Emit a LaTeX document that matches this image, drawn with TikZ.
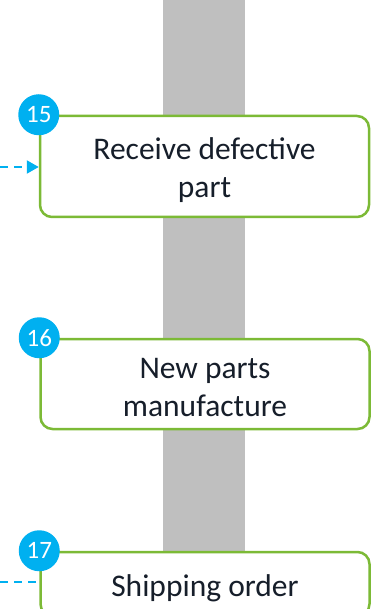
\documentclass[tikz,border=0pt]{standalone}
\usepackage{fontspec}
\setmainfont{Carlito}
\usetikzlibrary{arrows.meta}
\definecolor{boxgreen}{RGB}{124,186,54}
\definecolor{badgecyan}{RGB}{0,176,240}
\definecolor{barfill}{RGB}{191,191,191}
\definecolor{txtdark}{RGB}{22,30,42}
\tikzset{
  stepbox/.style={draw=boxgreen, line width=2.5pt, rounded corners=12pt, fill=white,
    inner sep=0pt, minimum width=329pt},
  steptext/.style={text=txtdark, align=center, inner sep=0pt,
    font=\fontsize{31.5}{38}\selectfont, yshift=-4pt},
  badge/.style={circle, fill=badgecyan, minimum size=41pt, inner sep=0pt,
    text=white, font=\fontsize{25}{26}\selectfont},
  link/.style={draw=badgecyan, line width=2.2pt, dash pattern=on 8pt off 6pt},
}
\begin{document}
\begin{tikzpicture}[x=1pt,y=-1pt]
\useasboundingbox (0,0) rectangle (378,609);
\clip (0,0) rectangle (378,609);
\fill[barfill] (163,0) rectangle (245,609);
\node[stepbox, minimum height=101pt] (b15) at (204.5,166.5) {};
\node[stepbox, minimum height=90pt] (b16) at (205,384) {};
\node[stepbox, minimum height=64pt] (b17) at (205,584) {};
\node[steptext] (t15) at (b15.center) {Receive defective\\part};
\node[steptext] (t16) at (b16.center) {New parts\\manufacture};
\node[steptext] (t17) at (b17.center) {Shipping order};
\node[badge] (n15) at (b15.north west) {15};
\node[badge] (n16) at (b16.north west) {16};
\node[badge] (n17) at (b17.north west) {17};
\coordinate (s15) at (0,167);
\coordinate (s17) at (0,582);
\draw[link, -{Triangle[length=12pt,width=13pt]}] (s15) -- (s15 -| b15.west);
\draw[link] (s17) -- (s17 -| b17.west);
\end{tikzpicture}
\end{document}
